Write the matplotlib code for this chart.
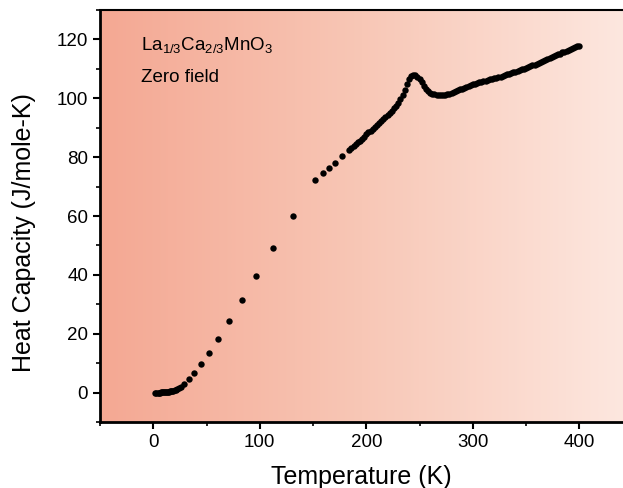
import numpy as np
import matplotlib
matplotlib.use("Agg")
import matplotlib.pyplot as plt
from matplotlib.colors import LinearSegmentedColormap
from matplotlib.ticker import MultipleLocator

plt.rcParams["font.family"] = ["Liberation Sans", "DejaVu Sans"]
plt.rcParams["mathtext.fontset"] = "custom"
plt.rcParams["mathtext.rm"] = "Liberation Sans"
plt.rcParams["mathtext.it"] = "Liberation Sans"

# low temperature, dense points
T_low = [2, 3, 4, 5, 6, 7, 8, 9, 10, 11, 12, 13, 14, 15, 16, 17, 18, 19, 20, 21, 22, 24, 26]
C_low = [0.0, 0.0, 0.0, 0.0, 0.0, 0.05, 0.05, 0.1, 0.1, 0.15, 0.2, 0.25, 0.3, 0.35, 0.45, 0.5, 0.6, 0.7, 0.8, 0.95, 1.1, 1.5, 2.0]

# sparse points
T_mid = [28.7, 33.4, 38.7, 45, 52.5, 61.2, 71.5, 83, 96.8, 112.5, 131, 152, 159, 165, 171, 177]
C_mid = [2.8, 4.5, 6.7, 9.6, 13.5, 18.3, 24.3, 31.4, 39.7, 49.3, 60.0, 72.4, 74.5, 76.2, 78.1, 80.4]

# dense high temperature part
T_high = [184, 186, 188, 190, 192, 194, 196, 198, 200, 202, 204, 206, 208, 210, 212,
          214, 216, 218, 220, 222, 224, 226, 228, 230, 232, 234, 236, 238, 240, 242,
          244, 246, 248, 250, 252, 254, 256, 258, 260, 262, 264, 266, 268, 270, 272,
          274, 276, 278, 280, 282, 284, 286, 288, 290, 292, 294, 296, 298, 300, 302,
          304, 306, 308, 310, 312, 314, 316, 318, 320, 322, 324, 326, 328, 330, 332,
          334, 336, 338, 340, 342, 344, 346, 348, 350, 352, 354, 356, 358, 360, 362,
          364, 366, 368, 370, 372, 374, 376, 378, 380, 382, 384, 386, 388, 390, 392,
          394, 396, 398, 400]
C_high = [82.6, 83.2, 83.8, 84.4, 85.0, 85.6, 86.3, 87.0, 87.7, 88.4, 89.0, 89.7, 90.4, 91.0, 91.7,
          92.4, 93.0, 93.7, 94.4, 95.1, 95.8, 96.6, 97.5, 98.5, 99.6, 101.0, 102.8, 104.8, 106.5, 107.5,
          107.9, 107.9, 107.4, 106.6, 105.5, 104.3, 103.3, 102.5, 101.9, 101.5, 101.3, 101.1, 101.0, 101.0, 101.1,
          101.2, 101.4, 101.6, 101.9, 102.2, 102.5, 102.8, 103.1, 103.3, 103.6, 103.9, 104.1, 104.4, 104.7, 104.9,
          105.2, 105.4, 105.6, 105.8, 106.0, 106.2, 106.4, 106.6, 106.8, 106.9, 107.1, 107.3, 107.6, 107.8, 108.1,
          108.3, 108.6, 108.8, 109.0, 109.3, 109.5, 109.8, 110.1, 110.3, 110.6, 110.9, 111.2, 111.4, 111.7, 112.0,
          112.3, 112.7, 113.0, 113.3, 113.7, 114.0, 114.3, 114.6, 114.9, 115.2, 115.6, 115.9, 116.2, 116.5, 116.8,
          117.1, 117.3, 117.6, 117.8]

fig = plt.figure(figsize=(6.23, 4.88), dpi=100)
ax = fig.add_axes([0.1605, 0.1352, 0.8395, 0.8443])

xlim = (-50, 441)
ylim = (-10, 130)
cmap = LinearSegmentedColormap.from_list("bg", ["#f4a893", "#f8c7b6", "#fde7df"])
grad = np.linspace(0, 1, 256).reshape(1, -1)
ax.imshow(grad, extent=[xlim[0], xlim[1], ylim[0], ylim[1]], aspect="auto",
          cmap=cmap, zorder=0, interpolation="bilinear")

T = T_low + T_mid + T_high
C = C_low + C_mid + C_high
ax.plot(T, C, "o", color="black", markersize=4.6, markeredgewidth=0, zorder=3)

ax.set_xlim(*xlim)
ax.set_ylim(*ylim)
ax.xaxis.set_major_locator(MultipleLocator(100))
ax.xaxis.set_minor_locator(MultipleLocator(50))
ax.yaxis.set_major_locator(MultipleLocator(20))
ax.yaxis.set_minor_locator(MultipleLocator(10))
ax.tick_params(which="major", direction="out", length=5, width=1.5, labelsize=13.5)
ax.tick_params(which="minor", direction="out", length=3, width=1.2)
ax.spines["right"].set_visible(False)
ax.spines["left"].set_linewidth(2)
ax.spines["bottom"].set_linewidth(2)
ax.spines["top"].set_linewidth(1.5)

ax.set_xlabel("Temperature (K)", fontsize=18, labelpad=10)
ax.set_ylabel("Heat Capacity (J/mole-K)", fontsize=18)
ax.yaxis.set_label_coords(-0.122, 0.461)

ax.text(0.078, 0.915, r"La$_{1/3}$Ca$_{2/3}$MnO$_3$", transform=ax.transAxes,
        fontsize=13.5, va="center")
ax.text(0.078, 0.835, "Zero field", transform=ax.transAxes, fontsize=13.5, va="center")

fig.savefig("out.png", dpi=100)
